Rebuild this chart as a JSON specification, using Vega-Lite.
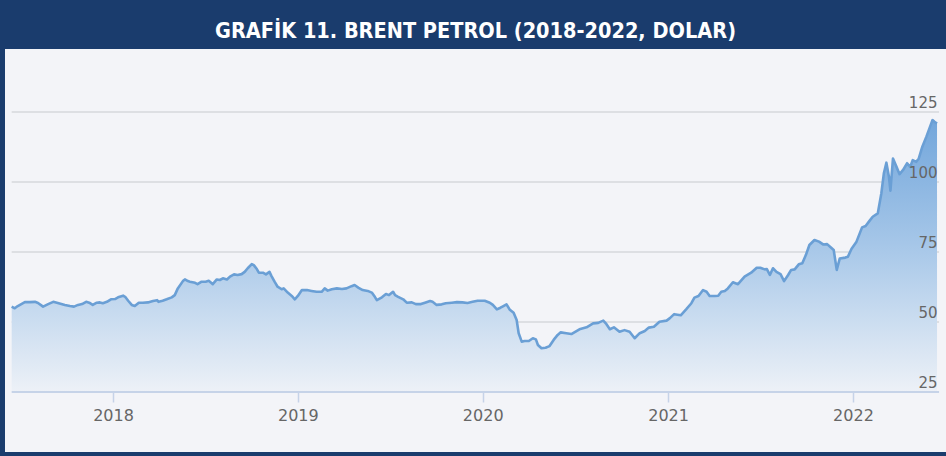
{
  "$schema": "https://vega.github.io/schema/vega-lite/v6.json",
  "autosize": "none",
  "width": 941,
  "height": 403,
  "padding": {"left": 5, "top": 49, "right": 0, "bottom": 4},
  "background": "#1a3c6d",
  "view": {"fill": "#f3f4f8", "stroke": null},
  "title": {
    "text": "GRAFİK 11. BRENT PETROL (2018-2022, DOLAR)",
    "anchor": "middle",
    "frame": "group",
    "font": "Liberation Sans Narrow, DejaVu Sans Condensed, sans-serif",
    "fontSize": 21.5,
    "fontWeight": "bold",
    "color": "#ffffff",
    "baseline": "alphabetic",
    "offset": 12,
    "dy": 22
  },
  "data": {
    "values": [
      {"date": "2017-06-15", "price": 55.5},
      {"date": "2017-06-21", "price": 54.9},
      {"date": "2017-06-27", "price": 55.7},
      {"date": "2017-07-11", "price": 57.1},
      {"date": "2017-07-21", "price": 57.1},
      {"date": "2017-07-31", "price": 57.2},
      {"date": "2017-08-06", "price": 56.8},
      {"date": "2017-08-16", "price": 55.5},
      {"date": "2017-08-26", "price": 56.4},
      {"date": "2017-09-05", "price": 57.2},
      {"date": "2017-09-14", "price": 56.8},
      {"date": "2017-09-28", "price": 56.1},
      {"date": "2017-10-08", "price": 55.7},
      {"date": "2017-10-16", "price": 55.5},
      {"date": "2017-10-24", "price": 56.1},
      {"date": "2017-11-01", "price": 56.4},
      {"date": "2017-11-09", "price": 57.2},
      {"date": "2017-11-15", "price": 56.9},
      {"date": "2017-11-22", "price": 56.1},
      {"date": "2017-11-30", "price": 56.9},
      {"date": "2017-12-06", "price": 57.0},
      {"date": "2017-12-12", "price": 56.7},
      {"date": "2017-12-20", "price": 57.2},
      {"date": "2017-12-28", "price": 58.1},
      {"date": "2018-01-05", "price": 58.2},
      {"date": "2018-01-11", "price": 58.8},
      {"date": "2018-01-21", "price": 59.4},
      {"date": "2018-01-25", "price": 59.0},
      {"date": "2018-01-31", "price": 57.6},
      {"date": "2018-02-07", "price": 56.1},
      {"date": "2018-02-13", "price": 55.7},
      {"date": "2018-02-21", "price": 56.9},
      {"date": "2018-03-01", "price": 56.9},
      {"date": "2018-03-11", "price": 57.0},
      {"date": "2018-03-21", "price": 57.5},
      {"date": "2018-03-29", "price": 57.8},
      {"date": "2018-04-01", "price": 57.2},
      {"date": "2018-04-09", "price": 57.6},
      {"date": "2018-04-17", "price": 58.1},
      {"date": "2018-04-27", "price": 58.8},
      {"date": "2018-05-03", "price": 59.6},
      {"date": "2018-05-09", "price": 62.0},
      {"date": "2018-05-19", "price": 64.6},
      {"date": "2018-05-23", "price": 65.2},
      {"date": "2018-05-29", "price": 64.6},
      {"date": "2018-06-02", "price": 64.4},
      {"date": "2018-06-12", "price": 64.0},
      {"date": "2018-06-17", "price": 63.5},
      {"date": "2018-06-25", "price": 64.4},
      {"date": "2018-07-03", "price": 64.4},
      {"date": "2018-07-09", "price": 64.7},
      {"date": "2018-07-15", "price": 63.8},
      {"date": "2018-07-17", "price": 63.5},
      {"date": "2018-07-25", "price": 65.2},
      {"date": "2018-07-31", "price": 65.0},
      {"date": "2018-08-06", "price": 65.6},
      {"date": "2018-08-14", "price": 65.2},
      {"date": "2018-08-20", "price": 66.2},
      {"date": "2018-08-28", "price": 67.0},
      {"date": "2018-09-04", "price": 66.8},
      {"date": "2018-09-12", "price": 67.1},
      {"date": "2018-09-18", "price": 67.9},
      {"date": "2018-09-24", "price": 69.2},
      {"date": "2018-10-02", "price": 70.7},
      {"date": "2018-10-06", "price": 70.3},
      {"date": "2018-10-12", "price": 68.9},
      {"date": "2018-10-16", "price": 67.6},
      {"date": "2018-10-24", "price": 67.6},
      {"date": "2018-10-30", "price": 67.0},
      {"date": "2018-11-06", "price": 67.9},
      {"date": "2018-11-10", "price": 66.4},
      {"date": "2018-11-16", "price": 64.4},
      {"date": "2018-11-22", "price": 62.6},
      {"date": "2018-11-30", "price": 61.7},
      {"date": "2018-12-04", "price": 62.0},
      {"date": "2018-12-12", "price": 60.5},
      {"date": "2018-12-20", "price": 59.3},
      {"date": "2018-12-26", "price": 58.1},
      {"date": "2019-01-01", "price": 59.3},
      {"date": "2019-01-09", "price": 61.4},
      {"date": "2019-01-19", "price": 61.4},
      {"date": "2019-01-28", "price": 61.1},
      {"date": "2019-02-07", "price": 60.8},
      {"date": "2019-02-17", "price": 60.8},
      {"date": "2019-02-23", "price": 62.0},
      {"date": "2019-03-01", "price": 61.2},
      {"date": "2019-03-09", "price": 61.7},
      {"date": "2019-03-19", "price": 62.0},
      {"date": "2019-03-29", "price": 61.8},
      {"date": "2019-04-07", "price": 62.0},
      {"date": "2019-04-17", "price": 62.8},
      {"date": "2019-04-23", "price": 63.2},
      {"date": "2019-05-01", "price": 62.2},
      {"date": "2019-05-09", "price": 61.4},
      {"date": "2019-05-19", "price": 61.1},
      {"date": "2019-05-27", "price": 60.5},
      {"date": "2019-06-02", "price": 59.0},
      {"date": "2019-06-06", "price": 57.8},
      {"date": "2019-06-16", "price": 58.8},
      {"date": "2019-06-24", "price": 60.0},
      {"date": "2019-06-30", "price": 59.6},
      {"date": "2019-07-08", "price": 60.8},
      {"date": "2019-07-12", "price": 59.6},
      {"date": "2019-07-18", "price": 59.0},
      {"date": "2019-07-28", "price": 58.1},
      {"date": "2019-08-04", "price": 56.9},
      {"date": "2019-08-14", "price": 57.0},
      {"date": "2019-08-22", "price": 56.4},
      {"date": "2019-09-01", "price": 56.4},
      {"date": "2019-09-09", "price": 56.9},
      {"date": "2019-09-19", "price": 57.5},
      {"date": "2019-09-24", "price": 57.2},
      {"date": "2019-10-02", "price": 56.1},
      {"date": "2019-10-12", "price": 56.3},
      {"date": "2019-10-20", "price": 56.7},
      {"date": "2019-11-01", "price": 56.9},
      {"date": "2019-11-11", "price": 57.1},
      {"date": "2019-11-22", "price": 57.0},
      {"date": "2019-12-02", "price": 56.8},
      {"date": "2019-12-12", "price": 57.2},
      {"date": "2019-12-22", "price": 57.6},
      {"date": "2020-01-05", "price": 57.6},
      {"date": "2020-01-15", "price": 56.9},
      {"date": "2020-01-21", "price": 56.1},
      {"date": "2020-01-29", "price": 54.5},
      {"date": "2020-02-05", "price": 55.1},
      {"date": "2020-02-09", "price": 55.5},
      {"date": "2020-02-17", "price": 56.3},
      {"date": "2020-02-23", "price": 54.5},
      {"date": "2020-03-02", "price": 53.3},
      {"date": "2020-03-08", "price": 50.7},
      {"date": "2020-03-12", "price": 46.0},
      {"date": "2020-03-18", "price": 43.0},
      {"date": "2020-03-24", "price": 43.2},
      {"date": "2020-04-01", "price": 43.2},
      {"date": "2020-04-09", "price": 44.2},
      {"date": "2020-04-15", "price": 43.8},
      {"date": "2020-04-19", "price": 41.8},
      {"date": "2020-04-26", "price": 40.6},
      {"date": "2020-05-04", "price": 40.8},
      {"date": "2020-05-12", "price": 41.4},
      {"date": "2020-05-20", "price": 43.6},
      {"date": "2020-05-28", "price": 45.4},
      {"date": "2020-06-03", "price": 46.3},
      {"date": "2020-06-14", "price": 46.0},
      {"date": "2020-06-24", "price": 45.7},
      {"date": "2020-07-10", "price": 47.4},
      {"date": "2020-07-24", "price": 48.1},
      {"date": "2020-08-06", "price": 49.5},
      {"date": "2020-08-16", "price": 49.7},
      {"date": "2020-08-26", "price": 50.5},
      {"date": "2020-09-01", "price": 49.3},
      {"date": "2020-09-08", "price": 47.4},
      {"date": "2020-09-16", "price": 48.1},
      {"date": "2020-09-27", "price": 46.5},
      {"date": "2020-10-07", "price": 47.1},
      {"date": "2020-10-17", "price": 46.5},
      {"date": "2020-10-27", "price": 44.2},
      {"date": "2020-11-06", "price": 46.0},
      {"date": "2020-11-16", "price": 46.8},
      {"date": "2020-11-24", "price": 48.0},
      {"date": "2020-12-04", "price": 48.3},
      {"date": "2020-12-15", "price": 50.1},
      {"date": "2020-12-29", "price": 50.5},
      {"date": "2021-01-04", "price": 51.3},
      {"date": "2021-01-13", "price": 52.8},
      {"date": "2021-01-26", "price": 52.4},
      {"date": "2021-02-06", "price": 54.6},
      {"date": "2021-02-16", "price": 56.7},
      {"date": "2021-02-22", "price": 58.7},
      {"date": "2021-03-02", "price": 59.3},
      {"date": "2021-03-11", "price": 61.4},
      {"date": "2021-03-18", "price": 60.8},
      {"date": "2021-03-24", "price": 59.3},
      {"date": "2021-04-03", "price": 59.3},
      {"date": "2021-04-10", "price": 59.4},
      {"date": "2021-04-16", "price": 60.8},
      {"date": "2021-04-23", "price": 61.1},
      {"date": "2021-04-29", "price": 62.0},
      {"date": "2021-05-09", "price": 64.2},
      {"date": "2021-05-19", "price": 63.5},
      {"date": "2021-06-01", "price": 66.2},
      {"date": "2021-06-14", "price": 67.6},
      {"date": "2021-06-25", "price": 69.4},
      {"date": "2021-07-02", "price": 69.4},
      {"date": "2021-07-11", "price": 68.8},
      {"date": "2021-07-15", "price": 68.9},
      {"date": "2021-07-21", "price": 66.8},
      {"date": "2021-07-27", "price": 69.2},
      {"date": "2021-08-03", "price": 67.9},
      {"date": "2021-08-11", "price": 67.1},
      {"date": "2021-08-18", "price": 64.6},
      {"date": "2021-08-26", "price": 66.8},
      {"date": "2021-09-01", "price": 68.6},
      {"date": "2021-09-08", "price": 68.8},
      {"date": "2021-09-16", "price": 70.6},
      {"date": "2021-09-23", "price": 71.0},
      {"date": "2021-09-30", "price": 73.9},
      {"date": "2021-10-07", "price": 77.5},
      {"date": "2021-10-17", "price": 79.3},
      {"date": "2021-10-26", "price": 78.7},
      {"date": "2021-11-03", "price": 77.7},
      {"date": "2021-11-11", "price": 77.8},
      {"date": "2021-11-19", "price": 76.5},
      {"date": "2021-11-24", "price": 75.7},
      {"date": "2021-11-30", "price": 68.6},
      {"date": "2021-12-06", "price": 72.7},
      {"date": "2021-12-17", "price": 73.0},
      {"date": "2021-12-22", "price": 73.3},
      {"date": "2021-12-29", "price": 76.1},
      {"date": "2022-01-08", "price": 78.7},
      {"date": "2022-01-19", "price": 83.8},
      {"date": "2022-01-26", "price": 84.3},
      {"date": "2022-02-03", "price": 86.2},
      {"date": "2022-02-09", "price": 87.6},
      {"date": "2022-02-19", "price": 88.8},
      {"date": "2022-02-26", "price": 95.9},
      {"date": "2022-03-03", "price": 103.1},
      {"date": "2022-03-08", "price": 106.9},
      {"date": "2022-03-13", "price": 101.9},
      {"date": "2022-03-16", "price": 96.9},
      {"date": "2022-03-21", "price": 108.4},
      {"date": "2022-03-28", "price": 105.4},
      {"date": "2022-04-03", "price": 102.8},
      {"date": "2022-04-10", "price": 104.3},
      {"date": "2022-04-18", "price": 106.7},
      {"date": "2022-04-24", "price": 105.4},
      {"date": "2022-04-29", "price": 107.8},
      {"date": "2022-05-06", "price": 107.2},
      {"date": "2022-05-11", "price": 108.4},
      {"date": "2022-05-18", "price": 112.6},
      {"date": "2022-05-26", "price": 116.2},
      {"date": "2022-06-07", "price": 122.1},
      {"date": "2022-06-11", "price": 121.5},
      {"date": "2022-06-16", "price": 120.9}
    ]
  },
  "layer": [
    {
      "data": {"values": [{"start": "2017-06-15", "end": "2022-06-20", "level": 50}, {"start": "2017-06-15", "end": "2022-06-20", "level": 75}, {"start": "2017-06-15", "end": "2022-06-20", "level": 100}, {"start": "2017-06-15", "end": "2022-06-20", "level": 125}]},
      "mark": {"type": "rule", "color": "#d6d8dc", "strokeWidth": 1.5},
      "encoding": {
        "x": {"field": "start", "type": "temporal"},
        "x2": {"field": "end"},
        "y": {"field": "level", "type": "quantitative"}
      }
    },
    {
      "mark": {"type": "area", "interpolate": "linear", "fill": {"gradient": "linear", "x1": 0, "y1": 0, "x2": 0, "y2": 1, "stops": [{"offset": 0, "color": "#72a6db"}, {"offset": 0.45, "color": "#a5c6e8"}, {"offset": 0.7, "color": "#c6daef"}, {"offset": 1, "color": "#edf1f7"}]}},
      "encoding": {
        "x": {"field": "date", "type": "temporal", "scale": {"domain": [{"year": 2017, "month": 6, "date": 1, "hours": 19}, {"year": 2022, "month": 7, "date": 3, "hours": 17}]}, "axis": {"title": null, "orient": "bottom", "offset": -60, "domain": false, "grid": false, "tickCount": {"interval": "year", "step": 1}, "format": "%Y", "ticks": true, "tickSize": 10, "tickColor": "#c6d3e8", "tickWidth": 1.5, "labelPadding": 5, "labelFont": "DejaVu Sans", "labelFontSize": 16, "labelColor": "#666666", "labelFlush": false, "labelOverlap": false}},
        "y": {"field": "price", "type": "quantitative", "scale": {"domain": [3.57, 147.5], "nice": false, "zero": false}, "axis": {"title": null, "orient": "right", "values": [25, 50, 75, 100, 125], "grid": false, "domain": false, "ticks": false, "labelAlign": "right", "labelBaseline": "alphabetic", "labelPadding": -9, "labelOffset": -4, "labelFont": "DejaVu Sans", "labelFontSize": 15, "labelColor": "#666666", "zindex": 1}},
        "y2": {"datum": 25}
      }
    },
    {
      "data": {"values": [{"start": "2017-06-15", "end": "2022-06-20", "level": 25}]},
      "mark": {"type": "rule", "color": "#c6d3e8", "strokeWidth": 2},
      "encoding": {
        "x": {"field": "start", "type": "temporal"},
        "x2": {"field": "end"},
        "y": {"field": "level", "type": "quantitative"}
      }
    },
    {
      "mark": {"type": "line", "interpolate": "linear", "color": "#6a9fd5", "strokeWidth": 2.6, "strokeJoin": "round"},
      "encoding": {
        "x": {"field": "date", "type": "temporal"},
        "y": {"field": "price", "type": "quantitative"}
      }
    }
  ]
}
